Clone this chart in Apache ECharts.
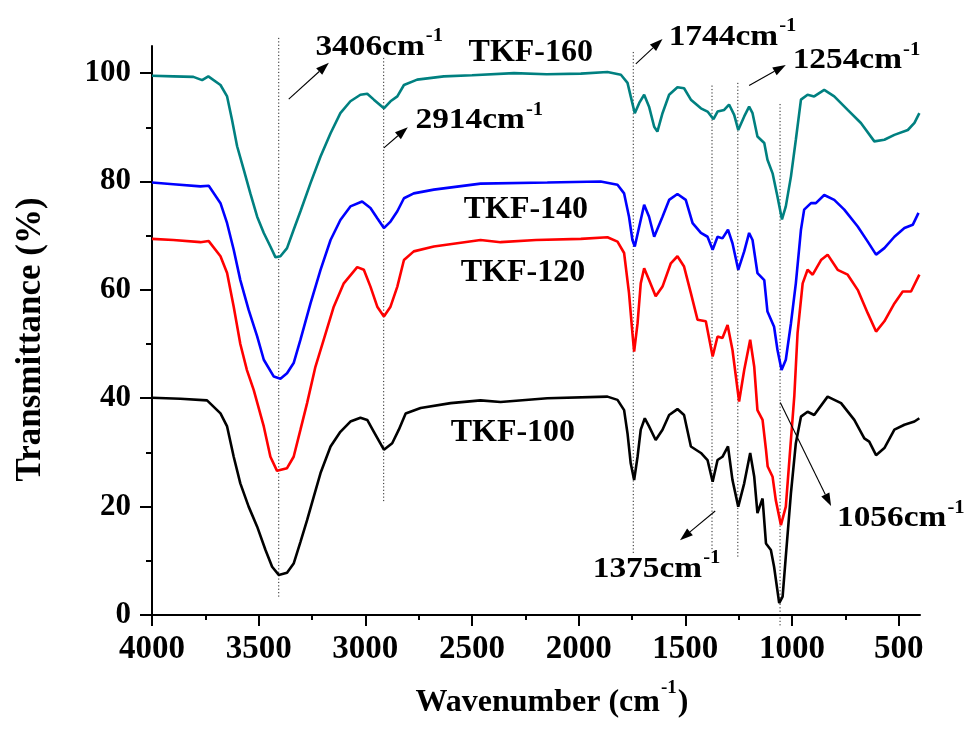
<!DOCTYPE html>
<html><head><meta charset="utf-8">
<script src="https://cdn.jsdelivr.net/npm/echarts@6/dist/echarts.min.js"></script>
<style>html,body{margin:0;padding:0;background:#fff}#c{width:965px;height:733px}</style>
</head><body><div id="c"></div>
<script>
// ---------- data ----------
const xTicks = [500, 1000, 1500, 2000, 2500, 3000, 3500, 4000];
const xMinorTicks = [750, 1250, 1750, 2250, 2750, 3250, 3750];
const yTicks = [0, 20, 40, 60, 80, 100];
const yMinorTicks = [10, 30, 50, 70, 90];

const wn160 = [4000,3900,3806,3765,3736,3679,3648,3625,3601,3570,3539,3507,3476,3445,3421,3398,3367,3336,3304,3257,3210,3163,3117,3070,3023,2991,2960,2913,2882,2850,2819,2757,2632,2500,2303,2150,1990,1865,1802,1771,1756,1737,1716,1693,1670,1646,1631,1607,1576,1537,1506,1474,1427,1396,1368,1349,1318,1295,1271,1252,1224,1201,1185,1162,1130,1115,1091,1068,1047,1029,1005,982,958,927,896,849,802,739,677,614,567,520,457,426,403];
const t160  = [99.5,99.4,99.3,98.7,99.4,97.8,95.7,91.4,86.5,82.2,77.8,73.5,70.5,68.0,66.0,66.2,67.7,71.1,74.5,79.7,84.6,88.9,92.6,94.8,96.0,96.2,95.1,93.5,94.8,95.7,97.8,98.8,99.4,99.6,100.0,99.8,99.9,100.2,99.7,98.2,95.7,92.6,94.5,96.0,93.8,90.1,89.2,92.6,96.0,97.4,97.2,95.1,93.5,92.9,91.5,92.9,93.2,94.2,92.3,89.5,92.0,93.8,92.6,88.3,87.1,84.0,81.5,77.2,73.0,75.4,80.9,87.7,95.1,96.0,95.7,96.9,95.7,93.2,90.8,87.4,87.7,88.6,89.5,90.8,92.6];

const wn140 = [4000,3900,3773,3734,3679,3648,3617,3586,3547,3507,3476,3429,3398,3367,3336,3304,3257,3210,3163,3117,3070,3015,2976,2944,2913,2882,2850,2819,2773,2679,2460,2147,1897,1818,1787,1764,1748,1737,1716,1693,1670,1646,1607,1576,1537,1498,1466,1427,1396,1372,1349,1326,1300,1279,1252,1224,1201,1185,1162,1130,1115,1084,1068,1049,1029,1005,982,967,958,943,911,888,849,802,755,692,645,606,567,520,473,434,407];
const t140  = [79.8,79.5,79.1,79.2,76.0,72.3,67.4,61.8,56.3,51.4,47.1,44.0,43.6,44.6,46.5,50.8,57.5,63.7,69.2,72.9,75.4,76.3,75.1,73.2,71.4,72.6,74.5,76.9,77.8,78.5,79.6,79.8,80.0,79.4,77.8,73.5,69.2,68.0,71.7,75.7,73.5,69.8,73.5,76.6,77.7,76.6,72.3,70.5,69.8,67.4,69.8,69.5,71.1,68.6,63.7,67.1,70.5,69.2,63.1,61.8,56.0,53.2,48.9,45.2,47.1,53.8,61.2,67.4,71.1,74.8,76.0,76.0,77.5,76.6,74.8,71.7,68.9,66.5,67.7,69.8,71.4,72.0,74.2];

const wn120 = [4000,3900,3773,3734,3679,3648,3617,3586,3555,3523,3476,3445,3414,3367,3336,3304,3273,3234,3195,3148,3101,3038,3007,2976,2944,2913,2882,2850,2819,2773,2679,2460,2366,2200,1990,1865,1818,1787,1764,1748,1740,1724,1709,1693,1670,1639,1607,1568,1537,1506,1474,1443,1404,1372,1349,1326,1302,1279,1248,1224,1196,1177,1162,1138,1122,1114,1091,1076,1052,1029,1005,989,974,950,927,903,864,833,786,739,692,645,606,567,520,481,442,403];
const t120  = [69.4,69.2,68.8,69.0,66.2,63.1,56.9,50.0,45.2,41.5,34.8,29.2,26.6,27.1,29.2,34.2,39.1,45.8,50.8,56.9,61.2,64.2,63.7,60.6,56.9,55.1,56.9,60.6,65.5,67.1,68.0,69.2,68.8,69.2,69.4,69.7,68.9,66.8,59.4,52.0,48.6,53.8,61.2,64.0,61.8,58.8,60.6,64.9,66.2,64.3,59.4,54.5,54.2,47.7,51.4,51.1,53.5,48.9,39.4,45.2,50.8,45.8,37.8,36.0,30.5,27.4,25.5,21.2,16.6,20.0,32.3,40.5,52.0,61.2,63.7,62.8,65.5,66.5,63.7,62.8,60.0,55.7,52.3,54.2,57.5,59.7,59.7,62.8];

const wn100 = [4000,3867,3742,3679,3648,3617,3586,3547,3507,3468,3437,3406,3367,3336,3304,3273,3242,3210,3163,3117,3070,3023,2991,2960,2913,2874,2843,2811,2741,2600,2460,2366,2147,1865,1818,1787,1771,1756,1740,1724,1709,1690,1670,1639,1607,1576,1537,1506,1474,1427,1396,1372,1349,1326,1300,1279,1252,1224,1196,1177,1162,1138,1122,1099,1084,1060,1044,1029,1005,982,958,927,896,833,770,708,661,638,606,567,520,473,426,403];
const t100  = [40.1,39.9,39.6,37.2,34.8,29.2,24.3,20.0,16.3,12.0,8.9,7.4,7.8,9.5,13.5,17.5,21.8,26.2,31.1,33.8,35.7,36.4,36.0,33.8,30.5,31.7,34.2,37.2,38.2,39.1,39.6,39.3,40.0,40.3,39.7,37.8,33.5,28.0,24.9,29.2,34.2,36.3,34.8,32.3,34.2,36.9,38.0,36.9,31.1,29.9,28.6,24.6,28.6,29.2,31.1,24.9,20.0,24.3,29.9,25.5,18.8,21.5,13.2,12.0,8.9,2.2,3.4,10.8,22.5,31.7,36.6,37.5,36.9,40.3,39.1,36.0,32.6,32.0,29.5,30.8,34.2,35.1,35.7,36.3];

const seriesNames = ['TKF-100', 'TKF-120', 'TKF-140', 'TKF-160'];
// peak markers (wavenumber)
const peakWn = [3406, 2914, 1744, 1375, 1254, 1056];
const peakLabels = ['3406cm', '2914cm', '1744cm', '1375cm', '1254cm', '1056cm'];
const xTitleParts = ['Wavenumber (cm', '-1', ')'];
const yTitle = 'Transmittance (%)';

// ---------- styles / layout ----------
const FONT = '"Liberation Serif","Times New Roman",serif';
const colors = ['#000000', '#FF0000', '#0000FF', '#008080'];
const zip = (a, b) => a.map((v, i) => [v, b[i]]);
const seriesData = [zip(wn100, t100), zip(wn120, t120), zip(wn140, t140), zip(wn160, t160)];

const chart = echarts.init(document.getElementById('c'), null, {renderer: 'canvas'});
const tickStyle = {color: '#000', width: 2};
chart.setOption({
  animation: false,
  backgroundColor: '#fff',
  grid: {left: 152, right: 45, top: 46, bottom: 118},
  xAxis: [{
    type: 'value', min: 400, max: 4000, inverse: true, position: 'bottom',
    axisLine: {lineStyle: {color: '#000', width: 2}},
    axisTick: {customValues: xTicks, length: 11, lineStyle: tickStyle},
    axisLabel: {customValues: xTicks, formatter: v => String(v), margin: 18, fontSize: 33, fontWeight: 'bold', fontFamily: FONT, color: '#000'},
    splitLine: {show: false}
  }, {
    type: 'value', min: 400, max: 4000, inverse: true, position: 'bottom',
    axisLine: {show: false},
    axisTick: {customValues: xMinorTicks, length: 5, lineStyle: tickStyle},
    axisLabel: {show: false}, splitLine: {show: false}
  }],
  yAxis: [{
    type: 'value', min: 0, max: 105, position: 'left',
    axisLine: {show: true, lineStyle: {color: '#000', width: 2}},
    axisTick: {show: true, customValues: yTicks, length: 12, lineStyle: tickStyle},
    axisLabel: {customValues: yTicks, margin: 21, fontSize: 31, fontWeight: 'bold', fontFamily: FONT, color: '#000'},
    splitLine: {show: false},
    name: yTitle, nameLocation: 'middle', nameGap: 104,
    nameTextStyle: {fontSize: 35, fontWeight: 'bold', fontFamily: FONT, color: '#000', padding: [0, 18, 0, 0]}
  }, {
    type: 'value', min: 0, max: 105, position: 'left',
    axisLine: {show: false},
    axisTick: {show: true, customValues: yMinorTicks, length: 6, lineStyle: tickStyle},
    axisLabel: {show: false}, splitLine: {show: false}
  }],
  series: seriesData.map((d, i) => ({
    name: seriesNames[i], type: 'line', data: d, xAxisIndex: 0, yAxisIndex: 0,
    showSymbol: false, symbol: 'none', smooth: false, clip: false,
    lineStyle: {color: colors[i], width: 2.6}, z: 2 + i
  }))
});

// ---------- annotations (placed in data coordinates) ----------
const P = (x, y) => chart.convertToPixel({seriesIndex: 0}, [x, y]);
// dotted guide lines: [yTop, yBottom] for each peak
const guideRanges = [[106.5, 3.3], [102.8, 20.7], [103.9, 11.1], [97.7, 12.0], [98.2, 10.7], [94.3, -2.2]];
// arrows: [fromX, fromY, toX, toY]
const arrows = [
  [3359, 95.2, 3171, 101.9],
  [2913, 86.2, 2801, 90.0],
  [1732, 101.7, 1607, 106.3],
  [1360, 19.2, 1525, 13.8],
  [1201, 97.7, 1029, 101.5],
  [1055, 39.2, 817, 20.1]
];
// peak label anchors (left, baseline) in data coords, same order as peakLabels
const peakLabelPos = [[3234, 103.1], [2765, 89.5], [1578, 104.9], [1934, 6.8], [997, 100.6], [789, 16.1]];
// series label anchors (left, baseline): TKF-100, 120, 140, 160
const seriesLabelPos = [[2600, 31.8], [2553, 61.3], [2539, 72.9], [2516, 101.9]];

const measureCtx = document.createElement('canvas').getContext('2d');
function textW(t, font) { measureCtx.font = font; return measureCtx.measureText(t).width; }

const g = [];
peakWn.forEach((w, i) => {
  const a = P(w, guideRanges[i][0]), b = P(w, guideRanges[i][1]);
  g.push({type: 'line', shape: {x1: a[0], y1: a[1], x2: b[0], y2: b[1]}, z: 1,
    style: {stroke: '#222', lineWidth: 1, lineDash: [1.2, 2.2]}, silent: true});
});
arrows.forEach(r => {
  const a = P(r[0], r[1]), b = P(r[2], r[3]);
  const dx = b[0] - a[0], dy = b[1] - a[1], L = Math.hypot(dx, dy);
  const ux = dx / L, uy = dy / L, hl = 13, hw = 4.5;
  const bx = b[0] - ux * hl, by = b[1] - uy * hl;
  g.push({type: 'line', shape: {x1: a[0], y1: a[1], x2: bx, y2: by}, z: 10,
    style: {stroke: '#000', lineWidth: 1.1}, silent: true});
  g.push({type: 'polygon', z: 10, silent: true,
    shape: {points: [[b[0], b[1]], [bx - uy * hw, by + ux * hw], [bx + uy * hw, by - ux * hw]]},
    style: {fill: '#000'}});
});
const mainFont = 'bold 29px ' + FONT, supFont = 'bold 18px ' + FONT;
peakLabels.forEach((t, i) => {
  const p = P(peakLabelPos[i][0], peakLabelPos[i][1]);
  const w = textW(t, mainFont);
  g.push({type: 'group', x: p[0], y: p[1], scaleX: 1.15, z: 20, silent: true, children: [
    {type: 'text', x: 0, y: -23.5, style: {text: t, font: mainFont, fill: '#000', textAlign: 'left', textVerticalAlign: 'top'}},
    {type: 'text', x: w + 1, y: -28.7, style: {text: '-1', font: supFont, fill: '#000', textAlign: 'left', textVerticalAlign: 'top'}}
  ]});
});
seriesNames.forEach((t, i) => {
  const p = P(seriesLabelPos[i][0], seriesLabelPos[i][1]);
  g.push({type: 'text', x: p[0], y: p[1] - 26, z: 20, silent: true,
    style: {text: t, font: 'bold 32px ' + FONT, fill: '#000', textAlign: 'left', textVerticalAlign: 'top'}});
});
// x-axis title with superscript, centred under the plot
(function () {
  const tf = 'bold 32px ' + FONT, sf = 'bold 19px ' + FONT;
  const w0 = textW(xTitleParts[0], tf), w1 = textW(xTitleParts[1], sf), w2 = textW(xTitleParts[2], tf);
  const total = w0 + w1 + w2 + 2;
  const cx = 152 + (965 - 45 - 152) / 2 + 16, base = 713;
  const left = cx - total / 2;
  g.push({type: 'group', x: left, y: base, z: 20, silent: true, children: [
    {type: 'text', x: 0, y: -26, style: {text: xTitleParts[0], font: tf, fill: '#000', textAlign: 'left', textVerticalAlign: 'top'}},
    {type: 'text', x: w0 + 1, y: -34, style: {text: xTitleParts[1], font: sf, fill: '#000', textAlign: 'left', textVerticalAlign: 'top'}},
    {type: 'text', x: w0 + w1 + 2, y: -26, style: {text: xTitleParts[2], font: tf, fill: '#000', textAlign: 'left', textVerticalAlign: 'top'}}
  ]});
})();
chart.setOption({graphic: g});
</script></body></html>
